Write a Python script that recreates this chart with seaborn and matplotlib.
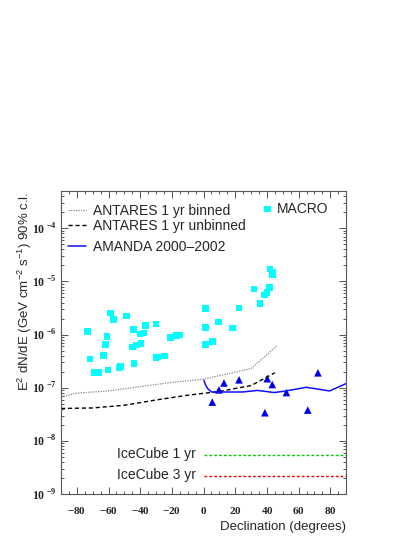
import seaborn as sns
import matplotlib
matplotlib.use('Agg')
import matplotlib.pyplot as plt
from matplotlib.ticker import FixedLocator, NullFormatter, FuncFormatter
import numpy as np

# MACRO upper limits (declination, flux)
macro_dec = [-73.2, -71.7, -69.2, -66.2, -63.3, -61.8, -61.1, -60.3, -58.9, -57.0,
             -53.5, -52.3, -48.7, -44.9, -44.3, -44.0, -42.3, -40.2, -39.6, -37.5,
             -36.8, -30.0, -30.0, -28.8, -24.6, -21.0, -17.0, -15.2, 1.1, 1.1,
             1.1, 5.5, 9.5, 18.4, 22.4, 31.7, 35.7, 38.5, 40.2, 41.7,
             41.9, 43.6, 43.6]
macro_flux = [1.15e-6, 3.47e-7, 1.95e-7, 1.95e-7, 4.07e-7, 6.46e-7, 9.12e-7, 2.14e-7, 2.57e-6, 1.91e-6,
              2.34e-7, 2.51e-7, 2.24e-6, 5.89e-7, 1.26e-6, 2.88e-7, 6.31e-7, 1.02e-6, 6.76e-7, 1.07e-6,
              1.48e-6, 1.58e-6, 3.72e-7, 3.80e-7, 3.98e-7, 8.91e-7, 9.55e-7, 9.77e-7, 3.09e-6, 1.35e-6,
              6.46e-7, 7.41e-7, 1.74e-6, 1.32e-6, 3.16e-6, 7.24e-6, 3.89e-6, 5.62e-6, 6.17e-6, 7.76e-6,
              1.70e-5, 1.51e-5, 1.35e-5]

# AMANDA source limits (triangles)
amanda_pt_dec = [5.5, 9.7, 12.9, 22.4, 38.7, 40.2, 43.4, 52.3, 65.8, 72.2]
amanda_pt_flux = [5.37e-8, 9.12e-8, 1.23e-7, 1.41e-7, 3.39e-8, 1.48e-7, 1.15e-7, 8.13e-8, 3.80e-8, 1.91e-7]

# AMANDA 2000-2002 sensitivity
amanda_dec = [0.2, 1.3, 3.0, 5.1, 24.6, 34.1, 44.6, 52.1, 64.8, 79.6, 90]
amanda_flux = [1.38e-7, 1.12e-7, 9.33e-8, 8.32e-8, 8.32e-8, 8.91e-8, 8.13e-8, 8.71e-8, 1.02e-7, 8.71e-8, 1.20e-7]

# ANTARES 1 yr
antares_b_dec = [-90, -80, -60, -40, -20, 0, 30, 46]
antares_b_flux = [6.76e-8, 7.94e-8, 8.71e-8, 1.05e-7, 1.26e-7, 1.45e-7, 2.29e-7, 6.03e-7]
antares_u_dec = [-90, -70, -50, -30, -10, 10, 30, 45]
antares_u_flux = [4.07e-8, 4.17e-8, 4.68e-8, 5.89e-8, 7.24e-8, 8.51e-8, 1.10e-7, 1.91e-7]

# IceCube
icecube_dec = [0, 90]
icecube_1yr = [5.4e-9, 5.4e-9]
icecube_3yr = [2.2e-9, 2.2e-9]

x_ticks = [-80, -60, -40, -20, 0, 20, 40, 60, 80]
y_decades = [-9, -8, -7, -6, -5, -4]

sns.set_theme(style='ticks')
plt.rcParams['font.family'] = ['Liberation Sans', 'DejaVu Sans']
plt.rcParams['mathtext.fontset'] = 'custom'
plt.rcParams['mathtext.rm'] = 'Liberation Sans'
plt.rcParams['mathtext.it'] = 'Liberation Sans:italic'
plt.rcParams['mathtext.bf'] = 'Liberation Serif:bold'

fig = plt.figure(figsize=(4.15, 5.37), dpi=100)
ax = fig.add_axes([0.147, 0.080, 0.687, 0.564])

sns.lineplot(x=antares_b_dec, y=antares_b_flux, ax=ax, color='#888888', lw=0.9,
             linestyle=(0, (1, 1)), label='ANTARES 1 yr binned')
sns.lineplot(x=antares_u_dec, y=antares_u_flux, ax=ax, color='black', lw=1.0,
             linestyle=(0, (3, 2)), label='ANTARES 1 yr unbinned')
sns.lineplot(x=amanda_dec, y=amanda_flux, ax=ax, color='#1010ff', lw=1.1,
             label='AMANDA 2000\u20132002')
sns.scatterplot(x=macro_dec, y=macro_flux, ax=ax, marker='s', s=22, color='#00ffff',
                edgecolor='none', label='MACRO')
sns.scatterplot(x=amanda_pt_dec, y=amanda_pt_flux, ax=ax, marker='^', s=30, color='#0000ee',
                edgecolor='none')
sns.lineplot(x=icecube_dec, y=icecube_1yr, ax=ax, color='#00cc00', lw=1.0,
             linestyle=(0, (2, 1.5)))
sns.lineplot(x=icecube_dec, y=icecube_3yr, ax=ax, color='#ee0000', lw=1.0,
             linestyle=(0, (2, 1.5)))

ax.text(-5, icecube_1yr[0] * 1.04, 'IceCube 1 yr', ha='right', va='center', fontsize=10)
ax.text(-5, icecube_3yr[0] * 1.04, 'IceCube 3 yr', ha='right', va='center', fontsize=10)

ax.set_yscale('log')
ax.set_xlim(-90, 90)
ax.set_ylim(1e-9, 5e-4)

ax.xaxis.set_major_locator(FixedLocator(x_ticks))
ax.xaxis.set_minor_locator(FixedLocator(np.arange(-90, 91, 5)))
ax.xaxis.set_major_formatter(FuncFormatter(lambda v, p: r'$\mathbf{%d}$' % v))
ax.yaxis.set_major_locator(FixedLocator([10.0 ** d for d in y_decades]))
minor_y = [m * 10.0 ** d for d in y_decades for m in range(2, 10) if m * 10.0 ** d < 5e-4]
ax.yaxis.set_minor_locator(FixedLocator(minor_y))
ax.yaxis.set_minor_formatter(NullFormatter())
ax.yaxis.set_major_formatter(FuncFormatter(
    lambda v, p: r'$\mathbf{10}^{\ \mathbf{%d}}$' % int(round(np.log10(v)))))

ax.tick_params(which='both', direction='in', top=True, right=True, color='#555555', width=0.7)
ax.tick_params(which='major', length=5)
ax.tick_params(which='minor', length=2.5)
ax.tick_params(axis='x', which='major', labelsize=8, pad=8)
ax.tick_params(axis='y', which='major', labelsize=8.5, pad=3)
for sp in ax.spines.values():
    sp.set_color('#555555')
    sp.set_linewidth(0.8)

ax.set_ylabel(r'E$^{2}$ dN/dE (GeV cm$^{-2}$ s$^{-1}$) 90% c.l.', fontsize=9.5, loc='top')
ax.yaxis.set_label_coords(-0.095, 1.0)
ax.set_xlabel('Declination (degrees)', fontsize=9.5, loc='right')
ax.xaxis.set_label_coords(1.0, -0.088)

handles, labels = ax.get_legend_handles_labels()
h = dict(zip(labels, handles))
kw = dict(frameon=False, fontsize=10, borderpad=0, borderaxespad=0,
          handlelength=1.3, handletextpad=0.5, labelspacing=0.1, loc='upper left')
leg1 = ax.legend([h['ANTARES 1 yr binned'], h['ANTARES 1 yr unbinned']],
                 ['ANTARES 1 yr binned', 'ANTARES 1 yr unbinned'],
                 bbox_to_anchor=(0.025, 0.958), **kw)
ax.add_artist(leg1)
leg2 = ax.legend([h['AMANDA 2000\u20132002']], ['AMANDA 2000\u20132002'],
                 bbox_to_anchor=(0.025, 0.838), **kw)
ax.add_artist(leg2)
kw['handlelength'] = 0.6
kw['handletextpad'] = 0.4
ax.legend([h['MACRO']], ['MACRO'], bbox_to_anchor=(0.71, 0.965), **kw)

fig.savefig('out.png', dpi=100)
